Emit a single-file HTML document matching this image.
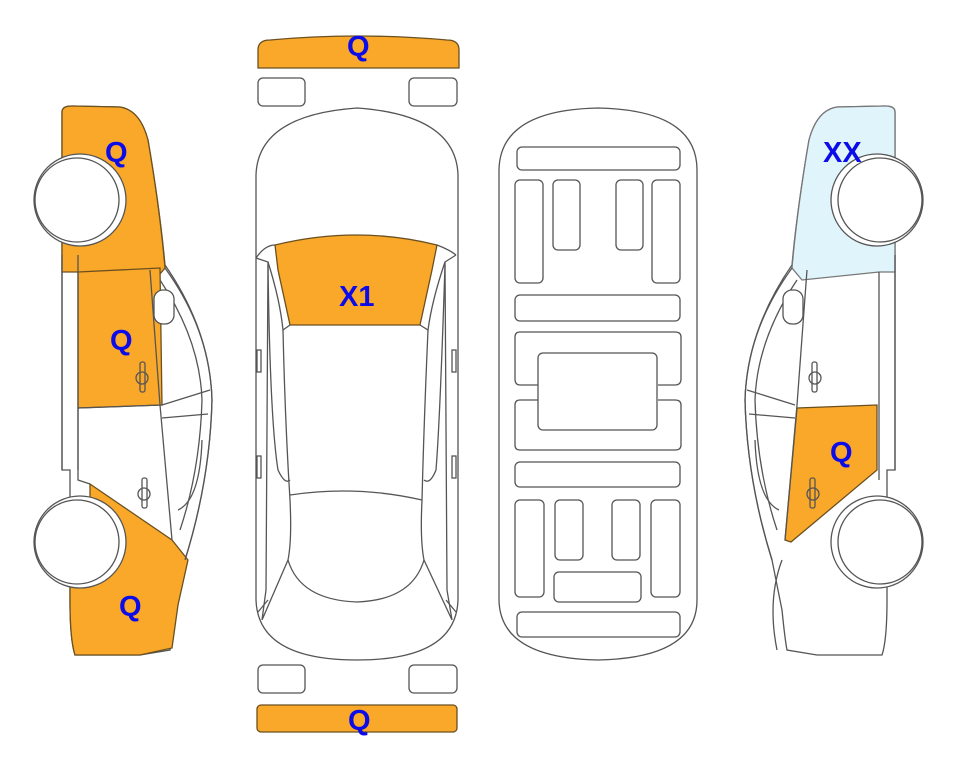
<!DOCTYPE html>
<html><head><meta charset="utf-8"><style>
html,body{margin:0;padding:0;background:#fff;width:963px;height:768px;overflow:hidden}
text{font-family:"Liberation Sans",Arial,sans-serif;font-weight:bold;font-size:29px;fill:#0c0ce8;stroke:none}
</style></head><body>
<svg width="963" height="768" viewBox="0 0 963 768" xmlns="http://www.w3.org/2000/svg" fill="none" stroke="#555" stroke-width="1.3">
<!-- LEFT SIDE CAR -->
<path d="M62,112 Q62,106 72,106 L120,107 Q140,110 148,140 Q160,210 165,265 Q210,330 212,400 Q210,480 185,560 L175,610 Q172,640 170,650 L140,655 L75,655 Q70,640 70,600 L70,470 L62,470 Z" fill="#fff"/>
<path d="M62,112 Q62,106 72,106 L120,107 Q140,110 148,140 Q160,210 165,268 L155,280 L78,272 L62,272 Z" fill="#f9a82a" stroke="#6b5020"/>
<path d="M78,272 L160,268 L162,405 L78,408 Z" fill="#f9a82a" stroke="#6b5020"/>
<path d="M90,484 L172,540 L188,560 L178,605 L172,648 L140,655 L75,655 Q70,640 70,600 L70,580 L90,580 Z" fill="#f9a82a" stroke="#6b5020"/>
<path d="M165,268 Q210,330 212,400 Q210,480 185,560" />
<path d="M160,280 Q200,340 202,400 Q200,470 180,530"/>
<path d="M150,270 L160,405 L172,540"/>
<path d="M162,405 L210,390 M162,418 L208,414 M162,405 L78,408 L78,480 L90,484"/>
<path d="M178,510 Q200,500 202,440"/>
<rect x="154" y="290" width="20" height="34" rx="9" fill="#fff"/>
<rect x="140" y="362" width="5" height="30" rx="2"/><circle cx="142" cy="378" r="6"/>
<rect x="142" y="478" width="5" height="30" rx="2"/><circle cx="144" cy="494" r="6"/>
<path d="M62,255 L62,470 M78,255 L78,470"/>
<circle cx="80" cy="200" r="46" fill="#fff"/><circle cx="77" cy="200" r="42" fill="#fff"/>
<circle cx="80" cy="542" r="46" fill="#fff"/><circle cx="77" cy="542" r="42" fill="#fff"/>
<text x="105" y="162">Q</text><text x="110" y="350">Q</text><text x="119" y="616">Q</text>

<!-- RIGHT SIDE CAR (mirror) -->
<g transform="translate(957,0) scale(-1,1)">
<path d="M62,112 Q62,106 72,106 L120,107 Q140,110 148,140 Q160,210 165,265 Q210,330 212,400 Q210,480 185,560 L175,610 Q172,640 170,650 L140,655 L75,655 Q70,640 70,600 L70,470 L62,470 Z" fill="#fff"/>
<path d="M62,112 Q62,106 72,106 L120,107 Q140,110 148,140 Q160,210 165,268 L155,280 L78,272 L62,272 Z" fill="#e0f5fb" stroke="#777"/>
<path d="M80,405 L160,408 L172,540 L166,542 L80,470 Z" fill="#f9a82a" stroke="#6b5020"/>
<path d="M165,268 Q210,330 212,400 Q210,480 185,560" />
<path d="M160,280 Q200,340 202,400 Q200,470 180,530"/>
<path d="M150,270 L160,405 L172,540"/>
<path d="M162,405 L210,390 M162,418 L208,414 M78,272 L78,480"/>
<path d="M178,510 Q200,500 202,440 M175,560 Q190,600 180,650"/>
<rect x="154" y="290" width="20" height="34" rx="9" fill="#fff"/>
<rect x="140" y="362" width="5" height="30" rx="2"/><circle cx="142" cy="378" r="6"/>
<rect x="142" y="478" width="5" height="30" rx="2"/><circle cx="144" cy="494" r="6"/>
<path d="M62,255 L62,470"/>
<circle cx="80" cy="200" r="46" fill="#fff"/><circle cx="77" cy="200" r="42" fill="#fff"/>
<circle cx="80" cy="542" r="46" fill="#fff"/><circle cx="77" cy="542" r="42" fill="#fff"/>
</g>
<text x="823" y="162">XX</text><text x="830" y="462">Q</text>

<!-- TOP VIEW CAR -->
<path d="M258,50 Q258,40 270,40 Q357,32 447,40 Q459,40 459,50 L459,68 L258,68 Z" fill="#f9a82a" stroke="#6b5020"/>
<rect x="258" y="78" width="47" height="28" rx="5"/><rect x="409" y="78" width="48" height="28" rx="5"/>
<rect x="258" y="665" width="47" height="28" rx="5"/><rect x="409" y="665" width="48" height="28" rx="5"/>
<rect x="257" y="705" width="200" height="27" rx="4" fill="#f9a82a" stroke="#6b5020"/>
<path d="M256,175 Q258,115 357,108 Q456,115 458,175 L458,600 Q456,660 357,660 Q258,660 256,600 Z" fill="#fff"/>
<path d="M275,245 Q357,225 437,245 L432,270 L420,325 L290,325 L278,270 Z" fill="#f9a82a" stroke="#6b5020"/>
<path d="M256,258 Q265,245 275,245 M437,245 Q450,250 456,255 M256,258 L268,262 Q280,300 283,330 L290,325 M456,255 L445,262 Q432,300 428,330 L420,325"/>
<path d="M283,330 Q285,420 290,500 Q292,540 288,560 M428,330 Q424,420 422,500 Q420,540 424,560"/>
<path d="M290,495 Q357,485 422,500 M288,560 Q300,600 357,602 Q412,600 424,560"/>
<path d="M268,262 L266,590 L262,620 M445,262 L447,590 L452,620 M262,620 L288,560 M452,620 L424,560"/>
<path d="M268,265 Q270,420 278,470 Q285,485 290,480 M445,265 Q440,420 436,470 Q430,485 424,480"/>
<path d="M258,612 L268,600 M456,612 L446,600"/>
<rect x="257" y="350" width="4" height="22"/><rect x="452" y="350" width="4" height="22"/>
<rect x="257" y="456" width="4" height="22"/><rect x="452" y="456" width="4" height="22"/>
<text x="347" y="56">Q</text><text x="339" y="306">X1</text><text x="348" y="730">Q</text>

<!-- CHASSIS -->
<path d="M499,170 Q500,110 598,108 Q697,110 697,170 L697,600 Q697,658 598,660 Q500,658 499,600 Z" fill="#fff"/>
<g>
<rect x="517" y="147" width="163" height="23" rx="5"/>
<rect x="515" y="180" width="28" height="103" rx="5"/>
<rect x="553" y="180" width="27" height="70" rx="5"/>
<rect x="616" y="180" width="27" height="70" rx="5"/>
<rect x="652" y="180" width="28" height="103" rx="5"/>
<rect x="515" y="295" width="165" height="26" rx="5"/>
<path d="M520,332 L675,332 Q681,332 681,337 L681,379 Q681,385 675,385 L658,385 M538,385 L520,385 Q515,385 515,379 L515,337 Q515,332 520,332"/>
<rect x="538" y="353" width="119" height="77" rx="5"/>
<path d="M538,400 L520,400 Q515,400 515,405 L515,445 Q515,450 520,450 L675,450 Q681,450 681,445 L681,405 Q681,400 675,400 L658,400"/>
<rect x="515" y="462" width="165" height="25" rx="5"/>
<rect x="515" y="500" width="29" height="97" rx="5"/>
<rect x="555" y="500" width="28" height="60" rx="5"/>
<rect x="612" y="500" width="28" height="60" rx="5"/>
<rect x="651" y="500" width="29" height="97" rx="5"/>
<rect x="554" y="572" width="87" height="30" rx="5"/>
<rect x="517" y="612" width="163" height="25" rx="5"/>
</g>
</svg>
</body></html>
